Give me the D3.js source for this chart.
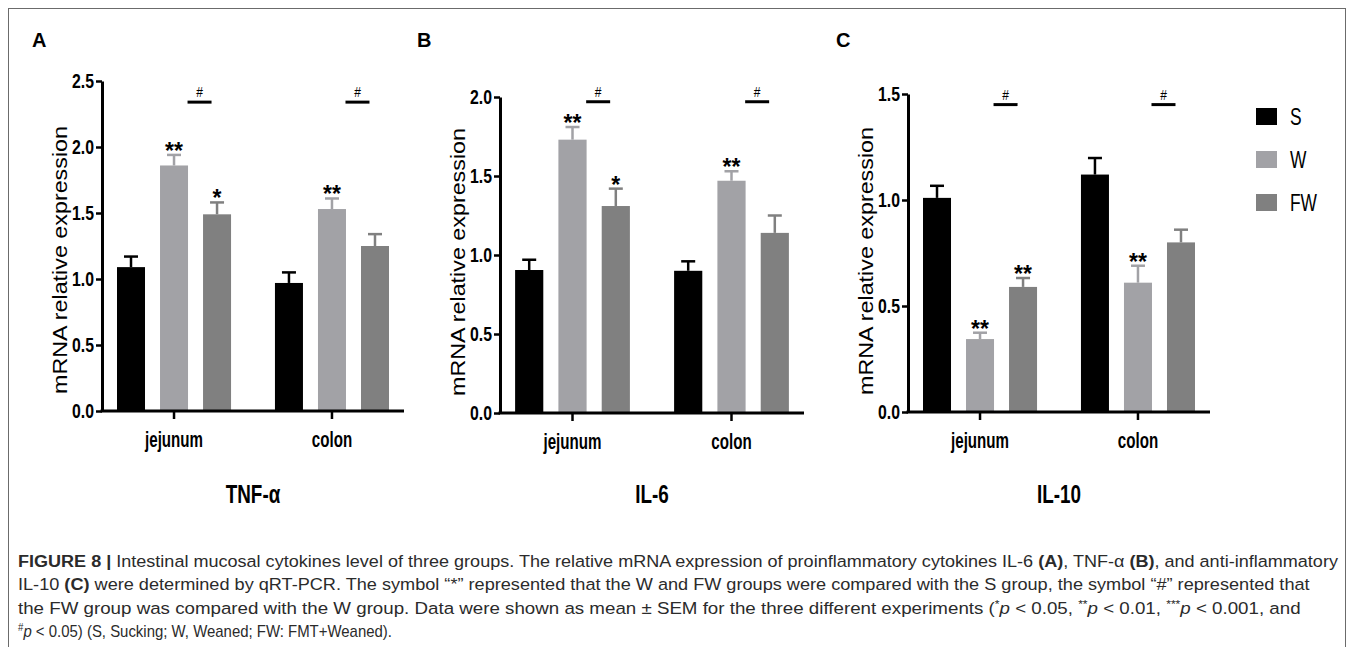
<!DOCTYPE html>
<html>
<head>
<meta charset="utf-8">
<script src="https://cdn.jsdelivr.net/npm/d3@7"></script>
<style>
  html, body { margin: 0; padding: 0; background: #fff; }
  svg { display: block; }
</style>
</head>
<body>
<svg id="fig" width="1357" height="647"></svg>
<script>
// groups and tissues
var groups = ["S", "W", "FW"];
var tissues = ["jejunum", "colon"];
var groupColors = ["#000000", "#a2a2a6", "#808080"];

// TNF-a (panel A)
var tnfJejunum = [1.09, 1.86, 1.49];
var tnfJejunumSem = [0.08, 0.08, 0.09];
var tnfColon = [0.97, 1.53, 1.25];
var tnfColonSem = [0.08, 0.08, 0.09];
var tnfStars = [["", "**", "*"], ["", "**", ""]];
var tnfTicks = [0, 0.5, 1.0, 1.5, 2.0, 2.5];

// IL-6 (panel B)
var il6Jejunum = [0.905, 1.73, 1.31];
var il6JejunumSem = [0.065, 0.08, 0.11];
var il6Colon = [0.90, 1.47, 1.14];
var il6ColonSem = [0.06, 0.06, 0.11];
var il6Stars = [["", "**", "*"], ["", "**", ""]];
var il6Ticks = [0, 0.5, 1.0, 1.5, 2.0];

// IL-10 (panel C)
var il10Jejunum = [1.01, 0.344, 0.59];
var il10JejunumSem = [0.057, 0.03, 0.042];
var il10Colon = [1.12, 0.61, 0.80];
var il10ColonSem = [0.078, 0.08, 0.06];
var il10Stars = [["", "**", "**"], ["", "**", ""]];
var il10Ticks = [0, 0.5, 1.0, 1.5];

// level of the "#" bar (data units) per panel
var hashLevels = [2.34, 1.97, 1.45];

var yLabel = "mRNA relative expression";

var panels = [
  { letter: "A", title: "TNF-α", means: [tnfJejunum, tnfColon], sems: [tnfJejunumSem, tnfColonSem],
    stars: tnfStars, ticks: tnfTicks, hash: hashLevels[0] },
  { letter: "B", title: "IL-6", means: [il6Jejunum, il6Colon], sems: [il6JejunumSem, il6ColonSem],
    stars: il6Stars, ticks: il6Ticks, hash: hashLevels[1] },
  { letter: "C", title: "IL-10", means: [il10Jejunum, il10Colon], sems: [il10JejunumSem, il10ColonSem],
    stars: il10Stars, ticks: il10Ticks, hash: hashLevels[2] }
];

// layout of each panel (pixels)
var layout = [
  { left: 102, right: 404, y0: 411, yTop: 81, letterX: 32 },
  { left: 500, right: 804, y0: 413, yTop: 97, letterX: 417 },
  { left: 908, right: 1210, y0: 412, yTop: 94, letterX: 836 }
];

var sans = '"Liberation Sans", Arial, sans-serif';

var svg = d3.select("#fig");

// horizontal squeeze factor so that `sample` in this style is `target` px wide
function squeeze(style, sample, target) {
  var t = svg.append("text")
    .style("font-family", style.family)
    .style("font-weight", style.weight || "normal")
    .style("font-size", style.size)
    .text(sample);
  var w = t.node().getComputedTextLength();
  t.remove();
  return target / w;
}
function condense(sel, k) {
  sel.each(function () {
    var w = this.getComputedTextLength();
    d3.select(this).attr("textLength", w * k).attr("lengthAdjust", "spacingAndGlyphs");
  });
}

var tickStyle = { family: sans, weight: "bold", size: "21px" };
var catStyle = { family: sans, weight: "bold", size: "22px" };
var titleStyle = { family: sans, weight: "bold", size: "25px" };
var legStyle = { family: sans, size: "24px" };
var kTick = squeeze(tickStyle, "2.5", 22);
var kCat = squeeze(catStyle, "jejunum", 58);
var kTitle = squeeze(titleStyle, "IL-10", 44);
var kLeg = squeeze(legStyle, "FW", 27);

function applyStyle(sel, st) {
  sel.style("font-family", st.family).style("font-weight", st.weight || "normal").style("font-size", st.size);
}

// frame
svg.append("rect")
  .attr("x", 8.5).attr("y", 8.5)
  .attr("width", 1337).attr("height", 660)
  .attr("fill", "none").attr("stroke", "#6b6b6b").attr("stroke-width", 1);

panels.forEach(function (p, i) {
  var L = layout[i];
  var g = svg.append("g");

  var y = d3.scaleLinear()
    .domain([0, d3.max(p.ticks)])
    .range([L.y0, L.yTop]);

  var x0 = d3.scaleBand()
    .domain(tissues)
    .range([L.left, L.right])
    .paddingInner(0.278)
    .paddingOuter(0.095);

  var x1 = d3.scaleBand()
    .domain(groups)
    .range([0, x0.bandwidth()])
    .paddingInner(0.349)
    .paddingOuter(0);

  // panel letter
  svg.append("text")
    .attr("x", L.letterX).attr("y", 47)
    .style("font-family", sans).style("font-weight", "bold").style("font-size", "20px")
    .text(p.letter);

  // rows of bar data
  var rows = [];
  tissues.forEach(function (t, ti) {
    groups.forEach(function (gr, gi) {
      rows.push({ tissue: t, group: gr, gi: gi, mean: p.means[ti][gi], sem: p.sems[ti][gi], star: p.stars[ti][gi] });
    });
  });
  var cx = function (d) { return x0(d.tissue) + x1(d.group) + x1.bandwidth() / 2; };

  g.selectAll("rect.bar")
    .data(rows)
    .join("rect")
    .attr("class", "bar")
    .attr("x", function (d) { return x0(d.tissue) + x1(d.group); })
    .attr("y", function (d) { return y(d.mean); })
    .attr("width", x1.bandwidth())
    .attr("height", function (d) { return y(0) - y(d.mean); })
    .attr("fill", function (d) { return groupColors[d.gi]; });

  // error bars (upper half only)
  var eb = g.selectAll("g.err")
    .data(rows)
    .join("g")
    .attr("class", "err")
    .attr("stroke", function (d) { return groupColors[d.gi]; })
    .attr("stroke-width", 2.5);
  eb.append("line")
    .attr("x1", cx).attr("x2", cx)
    .attr("y1", function (d) { return y(d.mean); })
    .attr("y2", function (d) { return y(d.mean + d.sem); });
  eb.append("line")
    .attr("x1", function (d) { return cx(d) - 7; })
    .attr("x2", function (d) { return cx(d) + 7; })
    .attr("y1", function (d) { return y(d.mean + d.sem); })
    .attr("y2", function (d) { return y(d.mean + d.sem); });

  // significance stars
  g.selectAll("text.star")
    .data(rows.filter(function (d) { return d.star; }))
    .join("text")
    .attr("class", "star")
    .attr("x", cx)
    .attr("y", function (d) { return y(d.mean + d.sem) + 4; })
    .attr("text-anchor", "middle")
    .style("font-family", sans).style("font-weight", "bold").style("font-size", "23px")
    .text(function (d) { return d.star; });

  // "#" comparisons between W and FW
  tissues.forEach(function (t) {
    var cw = x0(t) + x1("W") + x1.bandwidth() / 2;
    var cf = x0(t) + x1("FW") + x1.bandwidth() / 2;
    var hx = (cw + cf) / 2 + 4;
    var hy = y(p.hash);
    g.append("line")
      .attr("x1", hx - 12).attr("x2", hx + 12)
      .attr("y1", hy).attr("y2", hy)
      .attr("stroke", "#000").attr("stroke-width", 3);
    g.append("text")
      .attr("x", hx).attr("y", hy - 5)
      .attr("text-anchor", "middle")
      .style("font-family", sans).style("font-size", "15px")
      .text("#")
      .call(condense, 0.8);
  });

  // y axis
  var yAxis = g.append("g")
    .attr("transform", "translate(" + L.left + ",0)")
    .call(d3.axisLeft(y).tickValues(p.ticks).tickFormat(d3.format(".1f")).tickSize(6).tickSizeOuter(0).tickPadding(2));
  yAxis.select(".domain").attr("stroke-width", 3);
  yAxis.selectAll(".tick line").attr("stroke-width", 2.5);
  yAxis.selectAll(".tick text")
    .attr("fill", "#000")
    .call(applyStyle, tickStyle)
    .call(condense, kTick);

  // x axis
  var xAxis = g.append("g")
    .attr("transform", "translate(0," + L.y0 + ")")
    .call(d3.axisBottom(x0).tickSize(8).tickSizeOuter(0));
  xAxis.select(".domain").attr("stroke-width", 3).attr("d", "M" + (L.left - 1.5) + ",0H" + L.right);
  xAxis.selectAll(".tick line").attr("stroke-width", 2.5);
  xAxis.selectAll(".tick text")
    .attr("fill", "#000")
    .attr("y", 36).attr("dy", 0)
    .call(applyStyle, catStyle)
    .call(condense, kCat);

  // y axis title
  g.append("text")
    .attr("transform", "translate(" + (L.left - 35) + "," + (L.y0 - 151) + ") rotate(-90)")
    .attr("text-anchor", "middle")
    .style("font-family", sans).style("font-size", "20px")
    .attr("textLength", 268).attr("lengthAdjust", "spacingAndGlyphs")
    .text(yLabel);

  // panel title below
  g.append("text")
    .attr("x", (L.left + L.right) / 2).attr("y", 503)
    .attr("text-anchor", "middle")
    .call(applyStyle, titleStyle)
    .text(p.title)
    .call(condense, kTitle);
});

// legend
var legend = svg.append("g");
groups.forEach(function (gr, i) {
  legend.append("rect")
    .attr("x", 1256).attr("y", 108 + i * 43)
    .attr("width", 21).attr("height", 17)
    .attr("fill", groupColors[i]);
  legend.append("text")
    .attr("x", 1290).attr("y", 125 + i * 43)
    .call(applyStyle, legStyle)
    .text(gr)
    .call(condense, kLeg);
});

// caption, each line fitted to its measured width
var captionLines = [
  { width: 1322, parts: [
    { t: "FIGURE 8 | ", b: true }, { t: "Intestinal mucosal cytokines level of three groups. The relative mRNA expression of proinflammatory cytokines IL-6 " },
    { t: "(A)", b: true }, { t: ", TNF-α " }, { t: "(B)", b: true }, { t: ", and anti-inflammatory" } ] },
  { width: 1293, parts: [
    { t: "IL-10 " }, { t: "(C)", b: true },
    { t: " were determined by qRT-PCR. The symbol “*” represented that the W and FW groups were compared with the S group, the symbol “#” represented that" } ] },
  { width: 1284, parts: [
    { t: "the FW group was compared with the W group. Data were shown as mean ± SEM for the three different experiments (" },
    { t: "*", sup: true }, { t: "p", i: true }, { t: " < 0.05, " },
    { t: "**", sup: true }, { t: "p", i: true }, { t: " < 0.01, " },
    { t: "***", sup: true }, { t: "p", i: true }, { t: " < 0.001, and" } ] },
  { width: 374, parts: [
    { t: "#", sup: true }, { t: "p", i: true }, { t: " < 0.05) (S, Sucking; W, Weaned; FW: FMT+Weaned)." } ] }
];

captionLines.forEach(function (line, li) {
  var by = 567 + li * 23.3;
  var txt = svg.append("text")
    .attr("x", 18).attr("y", by)
    .style("font-family", sans).style("font-size", "17px")
    .attr("fill", "#2b2b2b");
  line.parts.forEach(function (pt, k) {
    var ts = txt.append("tspan").text(pt.t);
    if (pt.b) ts.style("font-weight", "bold");
    if (pt.i) ts.style("font-style", "italic");
    if (pt.sup) ts.style("font-size", "11px").attr("dy", -6);
    else if (k > 0 && line.parts[k - 1].sup) ts.attr("dy", 6);
  });
  var w = txt.node().getBBox().width;
  txt.attr("transform", "translate(18," + by + ") scale(" + (line.width / w) + ",1) translate(-18," + (-by) + ")");
});
</script>
</body>
</html>
